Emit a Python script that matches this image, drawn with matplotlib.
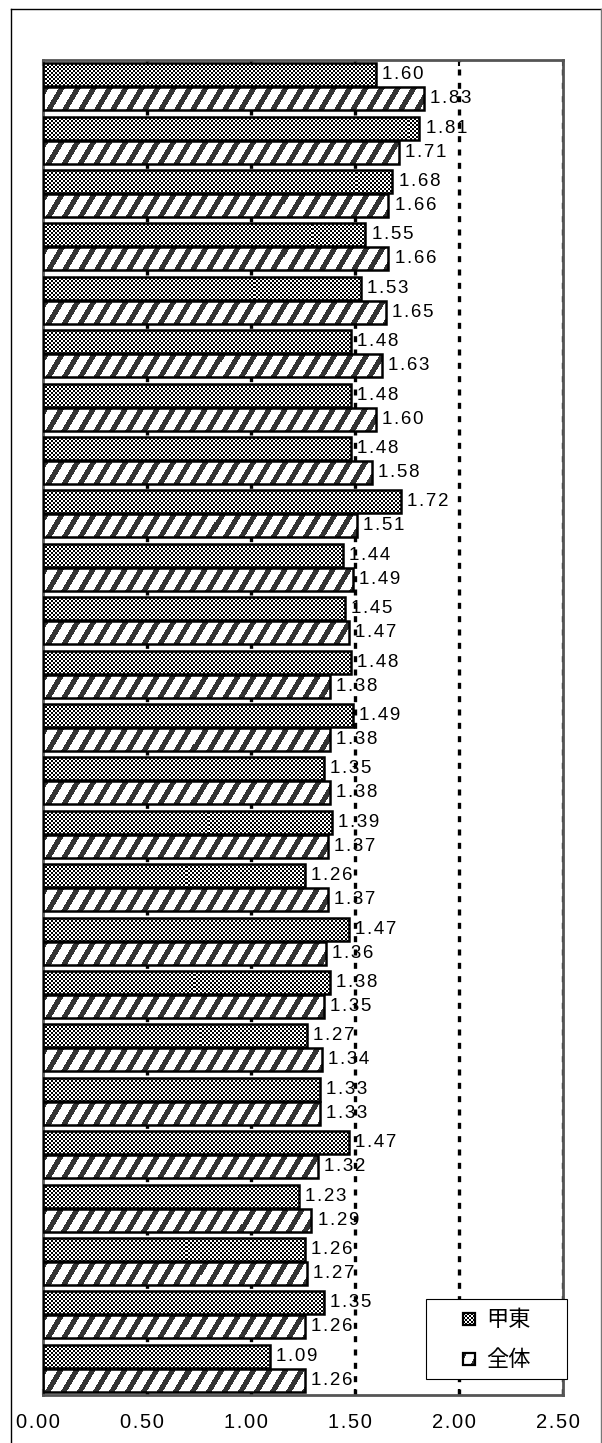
import matplotlib
matplotlib.use("Agg")
import matplotlib.pyplot as plt
import matplotlib.transforms as mtransforms
import numpy as np
from matplotlib.patches import Rectangle
from matplotlib.lines import Line2D

plt.rcParams['font.family'] = ['Liberation Sans', 'DejaVu Sans', 'Noto Sans CJK JP']

series_names = ['甲東', '全体']
koto = [1.60, 1.81, 1.68, 1.55, 1.53, 1.48, 1.48, 1.48, 1.72, 1.44, 1.45, 1.48, 1.49,
        1.35, 1.39, 1.26, 1.47, 1.38, 1.27, 1.33, 1.47, 1.23, 1.26, 1.35, 1.09]
zentai = [1.83, 1.71, 1.66, 1.66, 1.65, 1.63, 1.60, 1.58, 1.51, 1.49, 1.47, 1.38, 1.38,
          1.38, 1.37, 1.37, 1.36, 1.35, 1.34, 1.33, 1.32, 1.29, 1.27, 1.26, 1.26]
xticks = [0.0, 0.5, 1.0, 1.5, 2.0, 2.5]
xtick_labels = ['0.00', '0.50', '1.00', '1.50', '2.00', '2.50']

W, H = 602, 1443
AX_L, AX_R, AX_T, AX_B = 43, 563, 60, 1395
fig = plt.figure(figsize=(W / 100, H / 100), dpi=100)
ax = fig.add_axes([AX_L / W, 1 - AX_B / H, (AX_R - AX_L) / W, (AX_B - AX_T) / H])

SP = '\u200a'


def spaced(s):
    return SP.join(s)


def checker(h, w):
    r, c = np.mgrid[0:h, 0:w]
    v = ((r // 2 + c // 2) % 2).astype(float)
    return np.dstack([v, v, v])


def stripes(h, w, r0=0):
    r, c = np.mgrid[0:h, 0:w]
    dark = ((c + 0.6 * (r + r0)) % 16) < 6
    img = np.ones((h, w, 3))
    img[dark] = 0.2
    return img


n = len(koto)
y = np.arange(n)
bh = 0.43

ph, pw = AX_B - AX_T, AX_R - AX_L
tex1 = checker(ph, pw)
tex2 = stripes(ph, pw)
extent = (0, 2.5, n - 0.5, -0.5)

for xv in xticks[1:]:
    ax.axvline(xv, color='black', lw=2.4, ls=(0, (1.8, 2.2)), zorder=1.5)

b1 = ax.barh(y - bh / 2 - 0.01, koto, height=bh, facecolor='none', edgecolor='black',
             lw=1.8, zorder=3)
b2 = ax.barh(y + bh / 2 + 0.01, zentai, height=bh, facecolor='none', edgecolor='black',
             lw=1.8, zorder=3)
for bars, tex in ((b1, tex1), (b2, tex2)):
    for p in bars:
        im = ax.imshow(tex, extent=extent, interpolation='nearest', aspect='auto', zorder=2)
        im.set_clip_path(p)

ax.set_xlim(0, 2.5)
ax.set_ylim(n - 0.5, -0.5)

for yi, v in zip(y, koto):
    ax.text(v + 0.03, yi - bh / 2 - 0.01, spaced(f'{v:.2f}'), va='center', ha='left',
            fontsize=13.5, zorder=1)
for yi, v in zip(y, zentai):
    ax.text(v + 0.03, yi + bh / 2 + 0.01, spaced(f'{v:.2f}'), va='center', ha='left',
            fontsize=13.5, zorder=1)

ax.set_yticks([])
ax.set_xticks(xticks)
ax.set_xticklabels([spaced(t) for t in xtick_labels], fontsize=14.5)
ax.tick_params(axis='x', direction='in', length=4, width=1.5, top=True, pad=13)
off = mtransforms.ScaledTranslation(-5 / 100, 0, fig.dpi_scale_trans)
for lab in ax.get_xticklabels():
    lab.set_transform(lab.get_transform() + off)
for s in ax.spines.values():
    s.set_color('#555555')
    s.set_linewidth(2)

# legend (drawn as figure artists)
LX0, LX1, LY0, LY1 = 426, 567, 1299, 1379
fig.add_artist(Rectangle((LX0 / W, 1 - LY1 / H), (LX1 - LX0) / W, (LY1 - LY0) / H,
                         transform=fig.transFigure, facecolor='white', edgecolor='black',
                         lw=0.8, zorder=10))
hs = 12
for i, (name, cy) in enumerate(zip(series_names, [1319, 1359])):
    hx = 463
    hy = cy - hs // 2
    small = checker(hs, hs) if i == 0 else stripes(hs, hs, r0=4)
    fig.figimage(small, xo=hx, yo=H - hy - hs, zorder=11)
    fig.add_artist(Rectangle((hx / W, 1 - (hy + hs) / H), hs / W, hs / H,
                             transform=fig.transFigure, facecolor='none', edgecolor='black',
                             lw=1.6, zorder=12))
    fig.text(486 / W, 1 - cy / H, name, va='center', ha='left', fontsize=16,
             family=['Noto Sans CJK JP', 'DejaVu Sans'], zorder=12)

# outer frame
fig.add_artist(Line2D([11 / W, 11 / W], [0, 1 - 9 / H], transform=fig.transFigure, color='black', lw=1))
fig.add_artist(Line2D([11 / W, 601 / W], [1 - 9 / H, 1 - 9 / H], transform=fig.transFigure, color='black', lw=1))
fig.add_artist(Line2D([600.5 / W, 600.5 / W], [0, 1 - 9 / H], transform=fig.transFigure, color='#777777', lw=1))

fig.savefig('out.png', dpi=100)
